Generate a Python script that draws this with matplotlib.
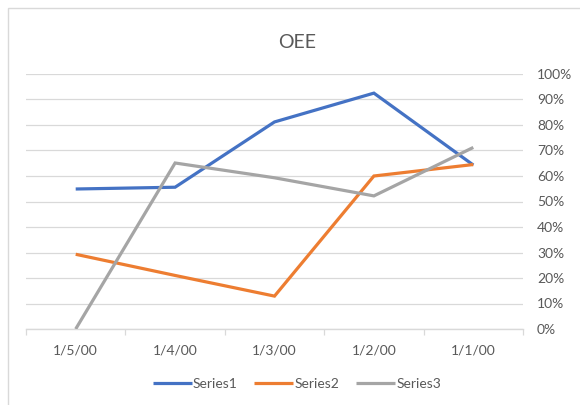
import matplotlib
matplotlib.use("Agg")
import matplotlib.pyplot as plt
from matplotlib.ticker import FuncFormatter, FixedLocator
from matplotlib.patches import Rectangle

categories = ["1/5/00", "1/4/00", "1/3/00", "1/2/00", "1/1/00"]
series1 = [54.9, 55.6, 81.2, 92.5, 64.3]
series2 = [29.3, 21.0, 12.9, 60.0, 64.5]
series3 = [0.0, 65.1, 59.3, 52.2, 71.2]
series_names = ["Series1", "Series2", "Series3"]
colors = ["#4472C4", "#ED7D31", "#A5A5A5"]
title = "OEE"

plt.rcParams['font.family'] = ['Lato', 'DejaVu Sans']

fig = plt.figure(figsize=(5.8, 4.05), dpi=100, facecolor="white")
fig.patches.append(Rectangle((8/580, -0.1), 1.2, (1 - 8/405) + 0.1, transform=fig.transFigure,
                             facecolor="none", edgecolor="#D9D9D9", linewidth=1.0, zorder=-5))

ax = fig.add_axes([26/580, 1 - 329/405, (523 - 26)/580, (329 - 74)/405])
ax.set_facecolor("none")

x = list(range(len(categories)))
for vals, name, c in zip([series1, series2, series3], series_names, colors):
    ax.plot(x, vals, color=c, linewidth=2.3, label=name, solid_capstyle="butt",
            solid_joinstyle="miter", zorder=3)

ax.set_xlim(-0.5, len(categories) - 0.5)
ax.set_ylim(0, 100)
ax.set_yticks(range(0, 101, 10))
ax.yaxis.set_major_formatter(FuncFormatter(lambda v, p: f"{int(v)}%"))
ax.yaxis.tick_right()
ax.tick_params(axis="y", length=0, pad=10, labelsize=10, labelcolor="#595959")
ax.grid(axis="y", color="#D9D9D9", linewidth=0.9, zorder=1)

ax.set_xticks(x)
ax.set_xticklabels(categories)
ax.xaxis.set_minor_locator(FixedLocator([i - 0.5 for i in range(len(categories) + 1)]))
ax.tick_params(axis="x", which="major", length=0, pad=11, labelsize=10, labelcolor="#595959")
ax.tick_params(axis="x", which="minor", length=4, color="#D9D9D9", width=0.9)

for s in ["top", "left", "right"]:
    ax.spines[s].set_visible(False)
ax.spines["bottom"].set_color("#D9D9D9")
ax.spines["bottom"].set_linewidth(1.0)
ax.spines["bottom"].set_zorder(2)

fig.text(297/580, 1 - 42/405, title, ha="center", va="center", fontsize=14, color="#595959")

leg = fig.legend(loc="center", bbox_to_anchor=(297/580, 1 - 384/405), ncol=3, frameon=False,
                 fontsize=10, labelcolor="#595959", handlelength=2.8, handletextpad=0.1,
                 columnspacing=1.2)

fig.savefig("out.png", dpi=100)
